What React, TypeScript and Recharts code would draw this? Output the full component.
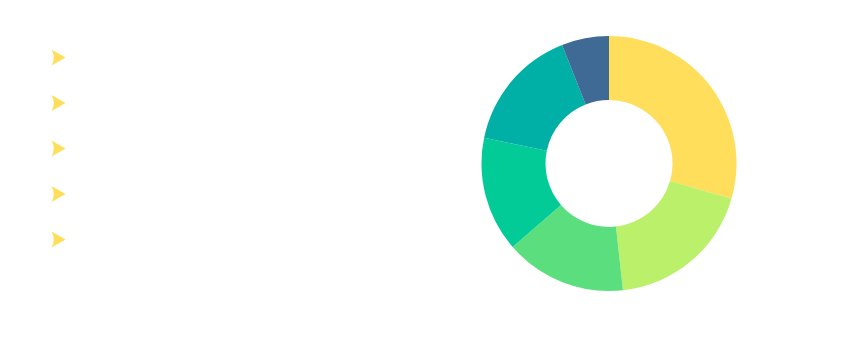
import React from 'react'
import { PieChart, Pie, Cell, Legend } from 'recharts'

// slice shares (percent)
const names = ['A', 'B', 'C', 'D', 'E', 'F']
const values = [29.5, 18.8, 15.4, 14.6, 15.8, 6.0]
const colors = ['#FEDE5A', '#BAF06A', '#5BDF7E', '#02CB98', '#00AFA5', '#3E6A95']
const legendNames = ['A', 'B', 'C', 'D', 'E']

const data = names.map((name, i) => ({ name, value: values[i] }))

const ArrowLegend = () => (
  <svg width={80} height={260}>
    {legendNames.map((n, i) => {
      const y = 49.5 + i * 45.5
      return (
        <path
          key={n}
          d={`M43.5,${y - 8} L57.5,${y} L43.5,${y + 8} Q48,${y} 43.5,${y - 8} Z`}
          fill="#FEDE5A"
        />
      )
    })}
  </svg>
)

const App = () => {
  return (
    <PieChart width={850} height={342} margin={{ top: 0, right: 0, bottom: 0, left: 0 }}>
      <Legend
        content={() => <ArrowLegend />}
        wrapperStyle={{ position: 'absolute', left: 0, top: 0, width: 80 }}
      />
      <Pie
        data={data}
        dataKey="value"
        nameKey="name"
        cx={601}
        cy={155.5}
        innerRadius={63.5}
        outerRadius={127.5}
        startAngle={90}
        endAngle={-270}
        stroke="none"
        isAnimationActive={false}
      >
        {data.map((d, i) => (
          <Cell key={d.name} fill={colors[i]} />
        ))}
      </Pie>
    </PieChart>
  )
}

export default App
